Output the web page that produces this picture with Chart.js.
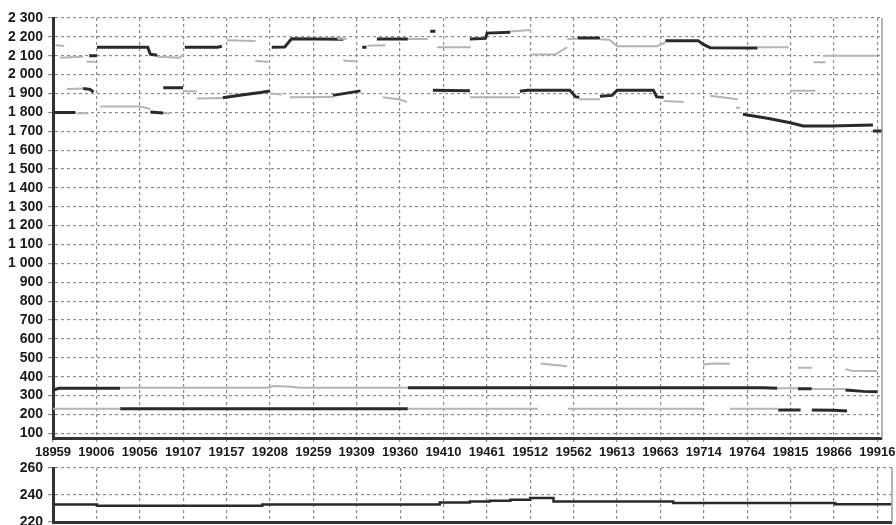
<!DOCTYPE html>
<html>
<head>
<meta charset="utf-8">
<script src="https://cdn.jsdelivr.net/npm/chart.js@4"></script>
<style>
  html, body { margin: 0; padding: 0; background: #fff; width: 896px; height: 525px; overflow: hidden; }
  canvas { position: absolute; left: 0; }
  #top { top: 0; }
  #bot { top: 455px; }
</style>
</head>
<body>
<canvas id="top" width="896" height="460"></canvas>
<canvas id="bot" width="896" height="75"></canvas>
<script>
// ---- tick labels ----
const xTickLabels = [18959, 19006, 19056, 19107, 19157, 19208, 19259, 19309, 19360, 19410,
                     19461, 19512, 19562, 19613, 19663, 19714, 19764, 19815, 19866, 19916];
const yTicksTop = [100, 200, 300, 400, 500, 600, 700, 800, 900, 1000, 1100, 1200,
                   1300, 1400, 1500, 1600, 1700, 1800, 1900, 2000, 2100, 2200, 2300];
const yTicksBottom = [220, 240, 260];

// ---- series (segments of [time, value]) ----
const darkHigh = [
  [[19001,2100],[19010,2100]],
  [[19010,2145],[19069,2145],[19072,2108],[19080,2103]],
  [[19112,2145],[19150,2145],[19155,2150]],
  [[19213,2145],[19228,2146],[19236,2190],[19296,2188]],
  [[19318,2145],[19323,2145]],
  [[19335,2189],[19371,2189]],
  [[19397,2230],[19403,2230]],
  [[19443,2189],[19461,2192],[19463,2220],[19490,2224]],
  [[19568,2194],[19594,2194]],
  [[19670,2180],[19708,2180],[19714,2160],[19722,2143],[19777,2141]]
];
const lightHigh = [
  [[18962,2155],[18972,2152]],
  [[18967,2090],[18994,2095]],
  [[18998,2068],[19009,2068]],
  [[19080,2095],[19106,2090],[19110,2105]],
  [[19161,2182],[19194,2178]],
  [[19194,2072],[19209,2068]],
  [[19289,2190],[19300,2190]],
  [[19296,2075],[19312,2070]],
  [[19324,2153],[19345,2155]],
  [[19371,2189],[19394,2189]],
  [[19405,2145],[19444,2145]],
  [[19490,2228],[19513,2236]],
  [[19513,2106],[19542,2106],[19556,2145]],
  [[19556,2189],[19568,2190]],
  [[19594,2188],[19605,2185],[19614,2150],[19660,2150],[19670,2170]],
  [[19777,2145],[19813,2145]],
  [[19842,2065],[19856,2065]],
  [[19853,2100],[19916,2100]]
];
const darkMid = [
  [[18959,1800],[18985,1800]],
  [[18994,1926],[19002,1922],[19006,1907]],
  [[19072,1802],[19087,1797]],
  [[19087,1930],[19110,1930]],
  [[19156,1878],[19180,1893],[19200,1905],[19211,1914]],
  [[19284,1890],[19316,1914]],
  [[19400,1917],[19443,1915]],
  [[19501,1912],[19510,1917],[19559,1917],[19566,1882],[19570,1880]],
  [[19594,1885],[19608,1890],[19614,1917],[19656,1917],[19660,1882],[19668,1880]],
  [[19760,1790],[19790,1768],[19815,1745],[19830,1728],[19861,1728],[19911,1733]],
  [[19911,1702],[19922,1702]]
];
const lightMid = [
  [[18975,1924],[18994,1926]],
  [[18987,1795],[19000,1795]],
  [[19014,1831],[19060,1831],[19072,1818]],
  [[19087,1795],[19095,1795]],
  [[19110,1912],[19126,1912]],
  [[19126,1873],[19156,1876]],
  [[19211,1900],[19225,1895]],
  [[19234,1880],[19284,1882]],
  [[19342,1880],[19360,1870],[19370,1855]],
  [[19443,1880],[19501,1880]],
  [[19570,1870],[19594,1870]],
  [[19668,1860],[19691,1855]],
  [[19722,1888],[19754,1870]],
  [[19752,1824],[19757,1824]],
  [[19815,1915],[19844,1915]]
];
const darkLow = [
  [[18959,329],[18966,338],[19037,338]],
  [[19037,230],[19371,230]],
  [[19371,341],[19784,341],[19800,338]],
  [[19801,223],[19827,223]],
  [[19824,336],[19840,336]],
  [[19840,223],[19866,222],[19881,218]],
  [[19879,329],[19900,322],[19916,320]]
];
const lightLow = [
  [[18959,230],[19037,230]],
  [[19037,341],[19210,341],[19214,350],[19232,348],[19246,341],[19371,341]],
  [[19371,230],[19522,230]],
  [[19557,230],[19714,230]],
  [[19745,230],[19801,230]],
  [[19800,338],[19824,338]],
  [[19840,334],[19879,334]],
  [[19525,470],[19556,455]],
  [[19714,465],[19725,470],[19745,468]],
  [[19824,447],[19840,447]],
  [[19879,440],[19886,431],[19916,430]]
];
// lower panel (stepped)
const bottomTimes  = [18959, 19010, 19202, 19408, 19443, 19466, 19490, 19513, 19540, 19679, 19867, 19896, 19932];
const bottomValues = [232.0, 233.0, 232.0, 233.0, 234.4, 235.2, 235.7, 236.4, 237.7, 235.2, 234.0, 233.2, 233.2];

// ---- helpers ----
const X0 = 18959, XSTEP = 50.37;
function flatten(segs) {
  const out = [];
  segs.forEach((seg, i) => {
    if (i > 0) out.push({ x: seg[0][0], y: null });
    seg.forEach(p => out.push({ x: p[0], y: p[1] }));
  });
  return out;
}
const fmt = v => String(v).replace(/\B(?=(\d{3})+(?!\d))/g, ' ');
const DARK = '#2a2a2a', LIGHT = '#b4b4b4', GRID = '#8c8c8c';
const FONT = "'Liberation Sans', Arial, sans-serif";

function lineDs(segs, color, w) {
  return { data: flatten(segs), borderColor: color, borderWidth: w, pointRadius: 0,
           spanGaps: false, tension: 0, fill: false };
}
const frame = {
  id: 'frame',
  afterDatasetsDraw(chart) {
    const a = chart.chartArea, ctx = chart.ctx;
    ctx.save();
    ctx.strokeStyle = '#9a9a9a';
    ctx.lineWidth = 1.5;
    ctx.beginPath();
    ctx.moveTo(a.right, a.top);
    ctx.lineTo(a.right, a.bottom);
    ctx.stroke();
    ctx.restore();
  }
};
function xScale(max, showLabels) {
  return {
    type: 'linear', min: X0, max: max,
    afterBuildTicks: s => { s.ticks = xTickLabels.map((l, i) => ({ value: X0 + i * XSTEP })); },
    afterFit: s => { s.height = showLabels ? 22 : 8; s.paddingLeft = 0; s.paddingRight = 0; },
    ticks: { display: showLabels, autoSkip: false, maxRotation: 0, padding: 3,
             color: '#1a1a1a', font: { family: FONT, size: 13, weight: 'bold' },
             callback: (v, i) => xTickLabels[i] },
    grid: { color: GRID, lineWidth: 1.2, drawTicks: showLabels, tickLength: 4 },
    border: { color: '#333', width: 3, dash: [3, 3] }
  };
}
function yScale(min, max, ticksArr) {
  return {
    type: 'linear', min: min, max: max,
    afterBuildTicks: s => { s.ticks = ticksArr.map(v => ({ value: v })); },
    afterFit: s => { s.width = 53; s.paddingTop = 0; s.paddingBottom = 0; },
    ticks: { autoSkip: false, padding: 5, color: '#1a1a1a',
             font: { family: FONT, size: 14, weight: 'bold' }, callback: v => fmt(v) },
    grid: { color: GRID, lineWidth: 1.2, tickLength: 5 },
    border: { color: '#333', width: 3, dash: [3, 3] }
  };
}

new Chart(document.getElementById('top'), {
  type: 'line',
  data: { datasets: [
    lineDs(lightHigh, LIGHT, 2), lineDs(lightMid, LIGHT, 2), lineDs(lightLow, LIGHT, 2),
    lineDs(darkHigh, DARK, 3), lineDs(darkMid, DARK, 3), lineDs(darkLow, DARK, 3)
  ]},
  options: {
    responsive: false, animation: false, devicePixelRatio: 1,
    layout: { padding: { top: 18, right: 14, left: 0, bottom: 0 } },
    plugins: { legend: { display: false }, tooltip: { enabled: false } },
    scales: { x: xScale(19921.5, true), y: yScale(75, 2300, yTicksTop) }
  },
  plugins: [frame]
});

new Chart(document.getElementById('bot'), {
  type: 'line',
  data: { datasets: [{
    data: bottomTimes.map((t, i) => ({ x: t, y: bottomValues[i] })),
    borderColor: DARK, borderWidth: 2.5, pointRadius: 0, stepped: 'after', fill: false
  }]},
  options: {
    responsive: false, animation: false, devicePixelRatio: 1,
    layout: { padding: { top: 13, right: 4, left: 0, bottom: 0 } },
    plugins: { legend: { display: false }, tooltip: { enabled: false } },
    scales: { x: xScale(19933, false), y: yScale(220, 260, yTicksBottom) }
  },
  plugins: [frame]
});
</script>
</body>
</html>
